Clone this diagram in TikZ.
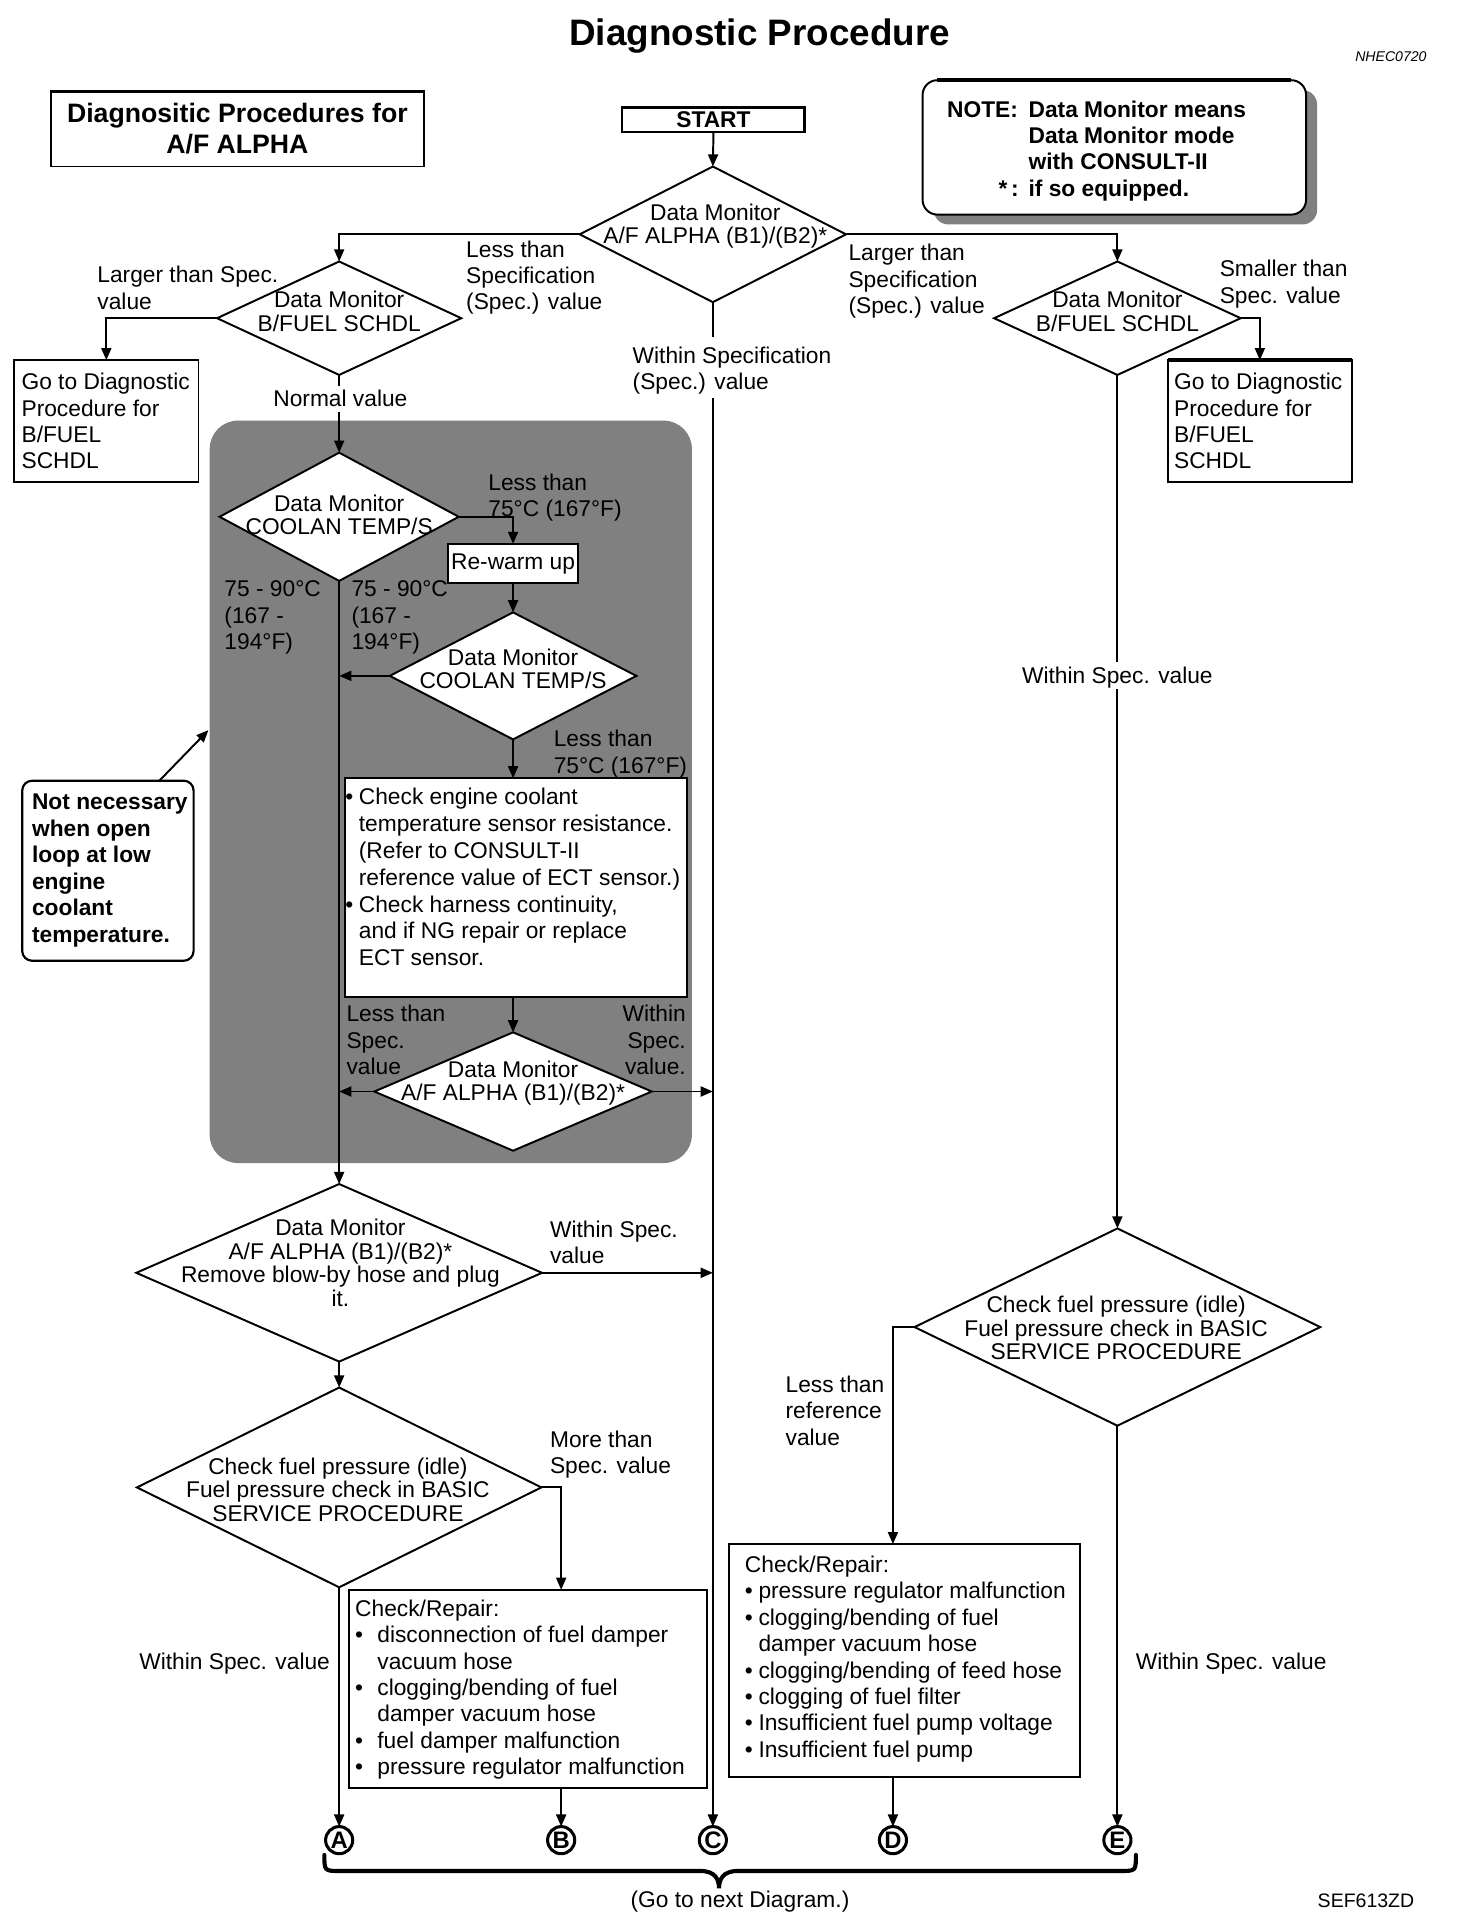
\documentclass[tikz,border=0pt]{standalone}
\usepackage{fontspec}
\setmainfont{Liberation Sans}
\usetikzlibrary{shapes.geometric,arrows.meta,calc}
\tikzset{
  ln/.style={line width=0.9pt},
  arr/.style={line width=0.9pt,-{Triangle[length=5.6pt,width=4.6pt]}},
  dia/.style={draw,line width=0.9pt,shape=diamond,inner sep=0pt,outer sep=0pt,fill=white},
  box/.style={draw,line width=0.9pt,inner sep=0pt,outer sep=0pt,fill=white},
  txt/.style={inner sep=0pt,outer sep=0pt,font=\fontsize{10.5}{12.2}\selectfont,align=left},
  btxt/.style={inner sep=0pt,outer sep=0pt,font=\fontsize{10.5}{12.2}\selectfont\bfseries,align=left},
  dtxt/.style={inner sep=0pt,outer sep=0pt,font=\fontsize{10.5}{10.9}\selectfont,align=center,anchor=north},
  circ/.style={draw,circle,line width=1.4pt,minimum size=0.44cm,inner sep=0pt,outer sep=0pt,font=\fontsize{11}{11}\selectfont\bfseries},
  shade/.style={fill=black!50},
}
\begin{document}
\begin{tikzpicture}[x=0.02cm,y=-0.02cm]
\useasboundingbox (0,0) rectangle (1181,1560);
\fill[white] (0,0) rectangle (1181,1560);

% end circles
\node[circ] (circA) at (275,1492) {A};
\node[circ] (circB) at (455,1492) {B};
\node[circ] (circC) at (578,1492) {C};
\node[circ] (circD) at (724,1492) {D};
\node[circ] (circE) at (906,1492) {E};

% title
\node[inner sep=0pt,font=\fontsize{17}{20}\selectfont\bfseries,anchor=base] (title) at (616,37) {Diagnostic Procedure};
\node[inner sep=0pt,font=\fontsize{6.5}{8}\selectfont\itshape,anchor=base east] (code) at (1157,50) {NHEC0720};

% header box
\node[box,minimum width=6.06cm,minimum height=1.22cm,font=\fontsize{12.3}{14.2}\selectfont\bfseries,align=center] (hdr) at (192.5,104.5) {Diagnositic Procedures for\\A/F ALPHA};
\draw[line width=1.6pt] (hdr.north west) -- (hdr.north east);

% START
\node[box,minimum width=2.96cm,minimum height=0.4cm,font=\fontsize{10.5}{12}\selectfont\bfseries] (start) at (578.5,97) {START};
\draw[line width=1.4pt] (start.north west) -- (start.north east) -- (start.south east);

% note box
\fill[shade,rounded corners=0.24cm] (757,73) rectangle (1068,182);
\node[box,rounded corners=0.24cm,minimum width=6.22cm,minimum height=2.18cm] (note) at (903.5,119.5) {};
\draw[line width=1.6pt] ([xshift=0.24cm]note.north west) -- ([xshift=-0.24cm]note.north east);
\node[btxt,anchor=base west] (notelbl) at (768,95) {NOTE:};
\node[btxt,anchor=north west] (notetxt) at (834,81.5) {Data Monitor means\\Data Monitor mode\\with CONSULT-II\\if so equipped.};
\node[btxt,anchor=base east] (notestar) at (826,159) {*\,:};

% first decision
\node[dia,minimum width=4.32cm,minimum height=2.2cm] (d1) at (578,190) {};
\node[dtxt] (d1t) at (580,165) {Data Monitor\\A/F ALPHA (B1)/(B2)*};
\draw[arr] (start.south) -- (d1.north);

\node[dia,minimum width=3.96cm,minimum height=1.84cm] (d2) at (275,258) {};
\node[dtxt] (d2t) at (275,236) {Data Monitor\\B/FUEL SCHDL};
\node[dia,minimum width=4.0cm,minimum height=1.84cm] (d3) at (906,258) {};
\node[dtxt] (d3t) at (906,236) {Data Monitor\\B/FUEL SCHDL};
\draw[arr] (d1.west) -| (d2.north);
\draw[arr] (d1.east) -| (d3.north);

\node[txt,anchor=north west] (l1) at (378,195) {Less than\\Specification\\(Spec.) value};
\node[txt,anchor=north west] (l2) at (79,216) {Larger than Spec.\\value};
\node[txt,anchor=north west] (l3) at (688,198) {Larger than\\Specification\\(Spec.) value};
\node[txt,anchor=north west] (l4) at (989,211) {Smaller than\\Spec. value};
\node[txt,anchor=north west] (l5) at (513,281) {Within Specification\\(Spec.) value};
\node[txt,anchor=north] (l6) at (276,316) {Normal value};

% go to boxes
\node[box,minimum width=2.99cm,minimum height=1.98cm] (gotoL) at (86.2,341.5) {};
\node[txt,anchor=north west] (gotoLt) at (17.5,302.5) {Go to Diagnostic\\Procedure for\\B/FUEL\\SCHDL};
\node[box,minimum width=2.99cm,minimum height=1.98cm] (gotoR) at (1021.5,341.5) {};
\draw[line width=1.6pt] (gotoR.north west) -- (gotoR.north east);
\node[txt,anchor=north west] (gotoRt) at (952,302.5) {Go to Diagnostic\\Procedure for\\B/FUEL\\SCHDL};
\draw[arr] (d2.west) -| (gotoL.north);
\draw[arr] (d3.east) -| (gotoR.north);

% C line
\coordinate (c1) at (578,273);
\coordinate (c2) at (578,323);
\draw[ln] (d1.south) -- (c1);
\draw[arr] (c2) -- (circC.north);

% normal value
\coordinate (n1) at (275,313);
\coordinate (n2) at (275,334);
\draw[ln] (d2.south) -- (n1);

% shaded region
\fill[shade,rounded corners=0.46cm] (170,341) rectangle (561,943);

\node[dia,minimum width=3.88cm,minimum height=2.08cm] (d4) at (275,419) {};
\node[dtxt] (d4t) at (275,401) {Data Monitor\\COOLAN TEMP/S};
\draw[arr] (n2) -- (d4.north);
\node[box,minimum width=2.12cm,minimum height=0.64cm,font=\fontsize{10.5}{12.2}\selectfont] (rewarm) at (416,457) {Re-warm up};
\draw[arr] (d4.east) -| (rewarm.north);

\node[dia,minimum width=4.0cm,minimum height=2.06cm] (d5) at (416,548) {};
\node[dtxt] (d5t) at (416,526) {Data Monitor\\COOLAN TEMP/S};
\draw[arr] (rewarm.south) -- (d5.north);
\draw[arr] (d5.west) -- (d5.west -| d4.south);

\node[txt,anchor=north west] (l7) at (396,384) {Less than\\75°C (167°F)};
\node[txt,anchor=north west] (l8) at (182,471) {75 - 90°C\\(167 -\\194°F)};
\node[txt,anchor=north west] (l9) at (285,471) {75 - 90°C\\(167 -\\194°F)};
\node[txt,anchor=north west] (l10) at (449,592) {Less than\\75°C (167°F)};

\node[box,minimum width=5.54cm,minimum height=3.54cm] (chk) at (418.5,719.5) {};
\node[txt,anchor=north west,font=\fontsize{10.5}{12.4}\selectfont] (chkt) at (280,639) {\makebox[0.22cm][l]{•}Check engine coolant\\\hspace*{0.22cm}temperature sensor resistance.\\\hspace*{0.22cm}(Refer to CONSULT-II\\\hspace*{0.22cm}reference value of ECT sensor.)\\\makebox[0.22cm][l]{•}Check harness continuity,\\\hspace*{0.22cm}and if NG repair or replace\\\hspace*{0.22cm}ECT sensor.};
\draw[arr] (d5.south) -- (d5.south |- chk.north);

\node[dia,minimum width=4.5cm,minimum height=1.92cm] (d6) at (416,885) {};
\node[dtxt] (d6t) at (416,860) {Data Monitor\\A/F ALPHA (B1)/(B2)*};
\draw[arr] (d5.south |- chk.south) -- (d6.north);
\draw[arr] (d6.west) -- (d6.west -| d4.south);
\draw[arr] (d6.east) -- (d6.east -| c2);
\node[txt,anchor=north west] (l11) at (281,815) {Less than\\Spec.\\value};
\node[txt,anchor=north east,align=right] (l12) at (556,815) {Within\\Spec.\\value.};

% callout
\node[box,rounded corners=0.16cm,line width=1pt,minimum width=2.78cm,minimum height=2.92cm] (callout) at (87.5,706) {};
\node[btxt,anchor=north west] (callt) at (26,644) {Not necessary\\when open\\loop at low\\engine\\coolant\\temperature.};
\coordinate (calltip) at (169,592);
\draw[arr] ($(callout.north west)!0.8!(callout.north east)$) -- (calltip);

% lower left column
\node[dia,minimum width=6.58cm,minimum height=2.88cm] (d7) at (275,1032) {};
\node[dtxt] (d7t) at (276,988.5) {Data Monitor\\A/F ALPHA (B1)/(B2)*\\Remove blow-by hose and plug\\it.};
\draw[arr] (d4.south) -- (d7.north);
\draw[arr] (d7.east) -- (d7.east -| c2);
\node[txt,anchor=north west] (l13) at (446,990) {Within Spec.\\value};

\node[dia,minimum width=6.56cm,minimum height=3.24cm] (d8) at (275,1206) {};
\node[dtxt] (d8t) at (274,1182) {Check fuel pressure (idle)\\Fuel pressure check in BASIC\\SERVICE PROCEDURE};
\draw[arr] (d7.south) -- (d8.north);
\node[txt,anchor=north west] (l14) at (446,1160) {More than\\Spec. value};

\node[box,minimum width=5.8cm,minimum height=3.22cm] (boxB) at (428,1369.5) {};
\node[txt,anchor=north west] (boxBt) at (288,1297) {Check/Repair:\\\makebox[0.36cm][l]{•}disconnection of fuel damper\\\hspace*{0.36cm}vacuum hose\\\makebox[0.36cm][l]{•}clogging/bending of fuel\\\hspace*{0.36cm}damper vacuum hose\\\makebox[0.36cm][l]{•}fuel damper malfunction\\\makebox[0.36cm][l]{•}pressure regulator malfunction};
\draw[arr] (d8.east) -| (circB |- boxB.north);
\draw[arr] (circB |- boxB.south) -- (circB.north);
\draw[arr] (d8.south) -- (circA.north);
\node[txt,anchor=base west] (l15) at (113,1354) {Within Spec. value};

% right column
\coordinate (r1) at (906,537);
\coordinate (r2) at (906,559);
\draw[ln] (d3.south) -- (r1);
\node[txt,anchor=base] (l16) at (906,554) {Within Spec. value};

\node[dia,minimum width=6.58cm,minimum height=3.2cm] (d9) at (906,1076) {};
\node[dtxt] (d9t) at (905,1051) {Check fuel pressure (idle)\\Fuel pressure check in BASIC\\SERVICE PROCEDURE};
\draw[arr] (r2) -- (d9.north);
\node[txt,anchor=north west] (l17) at (637,1115.5) {Less than\\reference\\value};

\node[box,minimum width=5.7cm,minimum height=3.78cm] (boxD) at (733.5,1346.5) {};
\node[txt,anchor=north west] (boxDt) at (604,1261.5) {Check/Repair:\\\makebox[0.22cm][l]{•}pressure regulator malfunction\\\makebox[0.22cm][l]{•}clogging/bending of fuel\\\hspace*{0.22cm}damper vacuum hose\\\makebox[0.22cm][l]{•}clogging/bending of feed hose\\\makebox[0.22cm][l]{•}clogging of fuel filter\\\makebox[0.22cm][l]{•}Insufficient fuel pump voltage\\\makebox[0.22cm][l]{•}Insufficient fuel pump};
\draw[arr] (d9.west) -| (circD |- boxD.north);
\draw[arr] (circD |- boxD.south) -- (circD.north);
\draw[arr] (d9.south) -- (circE.north);
\node[txt,anchor=base west] (l18) at (921,1354) {Within Spec. value};

% brace
\draw[line width=1.9pt,line cap=round] (263,1504) .. controls (263,1517) .. (276,1517) -- (568,1517) .. controls (580,1517) and (583,1524) .. (583,1531) .. controls (583,1524) and (586,1517) .. (598,1517) -- (908,1517) .. controls (921,1517) .. (921,1504);
\node[txt,anchor=base] (next) at (600,1547) {(Go to next Diagram.)};
\node[inner sep=0pt,font=\fontsize{9}{10}\selectfont,anchor=base east] (sef) at (1147,1547) {SEF613ZD};
\end{tikzpicture}
\end{document}
